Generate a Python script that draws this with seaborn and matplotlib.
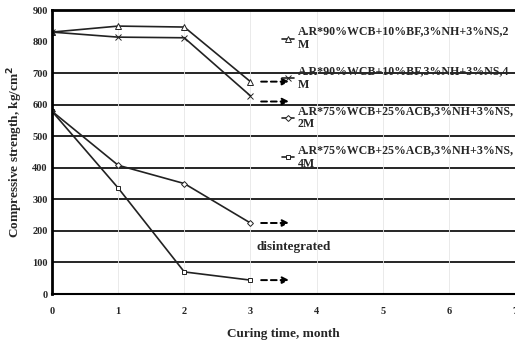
import numpy as np
import pandas as pd
import seaborn as sns
import matplotlib
matplotlib.use("Agg")
import matplotlib.pyplot as plt

months = [0, 1, 2, 3]
s1 = [830, 849, 846, 673]
s2 = [830, 814, 812, 628]
s3 = [579, 408, 350, 225]
s4 = [579, 336, 70, 44]
labels = ["A.R*90%WCB+10%BF,3%NH+3%NS,2\nM",
          "A.R*90%WCB+10%BF,3%NH+3%NS,4\nM",
          "A.R*75%WCB+25%ACB,3%NH+3%NS,\n2M",
          "A.R*75%WCB+25%ACB,3%NH+3%NS,\n4M"]
arrow_y = [673, 610, 225, 44]
x_ticks = [0, 1, 2, 3, 4, 5, 6, 7]
y_ticks = [0, 100, 200, 300, 400, 500, 600, 700, 800, 900]
grid_y = [100, 200, 300, 400, 500, 600, 700]

sns.set_theme(style="white")
plt.rcParams['font.family'] = ['Liberation Serif', 'DejaVu Serif']
plt.rcParams['font.weight'] = 'bold'

rows = []
for lab, vals in zip(labels, [s1, s2, s3, s4]):
    for m, v in zip(months, vals):
        rows.append({"month": m, "strength": v, "series": lab})
df = pd.DataFrame(rows)

fig = plt.figure(figsize=(5.15, 3.42), dpi=100)
ax = fig.add_axes([52/515, 1 - 294/342, 463/515, 284/342])

markers = {labels[0]: '^', labels[1]: 'x', labels[2]: 'D', labels[3]: 's'}
msizes = [4, 4, 3, 3.5]
for lab, ms in zip(labels, msizes):
    sub = df[df.series == lab]
    sns.lineplot(data=sub, x="month", y="strength", ax=ax, color="#222222",
                 linewidth=1.2, marker=markers[lab], markersize=ms,
                 markerfacecolor="white", markeredgecolor="#222222",
                 markeredgewidth=0.7, label=lab)

for yv in arrow_y:
    ax.annotate("", xy=(3.63, yv), xytext=(3.12, yv),
                arrowprops=dict(arrowstyle="-|>", linestyle=(0, (3, 2)),
                                color="black", lw=1.4, mutation_scale=10))

ax.text(3.65, 148, "disintegrated", fontsize=9.5, fontweight="bold", ha="center", va="center")

ax.set_xlim(0, 7)
ax.set_ylim(0, 900)
ax.set_xticks(x_ticks)
ax.set_yticks(y_ticks)
ax.tick_params(axis='x', labelsize=7.5, pad=7, length=2, direction='out')
ax.tick_params(axis='y', labelsize=7.5, pad=3, length=0)
ax.set_axisbelow(True)
for yv in grid_y:
    ax.axhline(yv, color="black", lw=1.2, zorder=0)
for xv in x_ticks[1:]:
    ax.axvline(xv, color="#e6e6e6", lw=0.6, zorder=0)
ax.set_xlabel("Curing time, month", fontsize=9.5, fontweight="bold", labelpad=9)
ax.set_ylabel("Compressive strength, kg/cm$^\\mathbf{2}$", fontsize=9.5, fontweight="bold", labelpad=5)

ax.spines["right"].set_visible(False)
ax.spines["top"].set_linewidth(2)
ax.spines["top"].set_color("black")
ax.spines["left"].set_linewidth(2)
ax.spines["left"].set_color("black")
ax.spines["bottom"].set_linewidth(1.5)
ax.spines["bottom"].set_color("black")

leg = ax.legend(loc="upper left", bbox_to_anchor=(0.497, 0.945), frameon=False,
                fontsize=8.6, handlelength=1.0, labelspacing=1.15, handletextpad=0.3,
                borderaxespad=0, borderpad=0)
for t in leg.get_texts():
    t.set_fontweight("bold")

fig.savefig("out.png", dpi=100)
